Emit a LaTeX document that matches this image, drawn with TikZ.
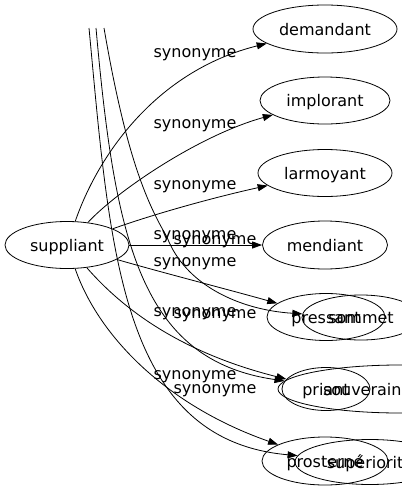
\documentclass[tikz,border=0pt]{standalone}
\usepackage{fontspec}
\setmainfont{DejaVu Sans}
\usetikzlibrary{arrows.meta,shapes.geometric}
\begin{document}
\begin{tikzpicture}[x=1pt,y=-1pt,
  nd/.style={draw, ellipse, line width=0.8pt, inner sep=0pt, font=\fontsize{16}{19}\selectfont, text height=12pt, text depth=0pt},
  lbl/.style={font=\fontsize{16}{19}\selectfont, anchor=base, inner sep=0pt},
  edge/.style={draw, line width=0.8pt, -{Triangle[length=10pt,width=7pt]}}]
\useasboundingbox (0,0) rectangle (402,491);
\clip (0,0) rectangle (402,491);
\node[nd, minimum width=124, minimum height=47] (suppliant) at (67,245) {suppliant};
\node[nd, minimum width=144, minimum height=48] (demandant) at (325,29) {demandant};
\node[nd, minimum width=130, minimum height=47] (implorant) at (325,100.5) {implorant};
\node[nd, minimum width=134, minimum height=47] (larmoyant) at (325,173) {larmoyant};
\node[nd, minimum width=125, minimum height=48] (mendiant) at (325,245) {mendiant};
\node[nd, minimum width=118, minimum height=47] (pressant) at (326,317) {pressant};
\node[nd, minimum width=118, minimum height=45] (sommet) at (361,317.5) {sommet};
\node[nd, minimum width=88, minimum height=43] (priant) at (326,389) {priant};
\node[nd, minimum width=244, minimum height=48] (souverain) at (400,389) {\makebox[0pt][l]{\hspace{-77pt}souverain}};
\node[nd, minimum width=126, minimum height=48] (prosterne) at (325,461) {prosterné};
\node[nd, minimum width=150, minimum height=45] (superiorite) at (370,462) {supériorité};
\coordinate (ta) at (89,28);
\coordinate (tb) at (96,28);
\coordinate (tc) at (104,28);
\draw[edge] (suppliant) .. controls (100,150) and (160,70) .. (demandant);
\draw[edge] (suppliant) .. controls (118,190) and (200,135) .. (implorant);
\draw[edge] (suppliant) .. controls (160,212) and (220,196) .. (larmoyant);
\draw[edge] (suppliant) -- (mendiant);
\draw[edge] (suppliant) .. controls (160,272) and (230,290) .. (pressant);
\draw[edge] (suppliant) .. controls (115,300) and (170,350) .. (priant);
\draw[edge] (suppliant) .. controls (98,335) and (165,405) .. (prosterne);
\draw[edge] (ta) .. controls (110,250) and (120,440) .. (superiorite);
\draw[edge] (tb) .. controls (115,240) and (140,360) .. (souverain.176);
\draw[edge] (tc) .. controls (125,150) and (145,200) .. (167,237) .. controls (185,285) and (240,310) .. (sommet);
\node[lbl] (l1) at (195,57) {synonyme};
\node[lbl] (l2) at (195,128.5) {synonyme};
\node[lbl] (l3) at (195,189.5) {synonyme};
\node[lbl] (l4) at (195,239.5) {synonyme};
\node[lbl] (l5) at (215,244.5) {synonyme};
\node[lbl] (l6) at (195,266) {synonyme};
\node[lbl] (l7) at (195,316) {synonyme};
\node[lbl] (l8) at (215,318.5) {synonyme};
\node[lbl] (l9) at (195,379.5) {synonyme};
\node[lbl] (l10) at (215,393.5) {synonyme};
\end{tikzpicture}
\end{document}
